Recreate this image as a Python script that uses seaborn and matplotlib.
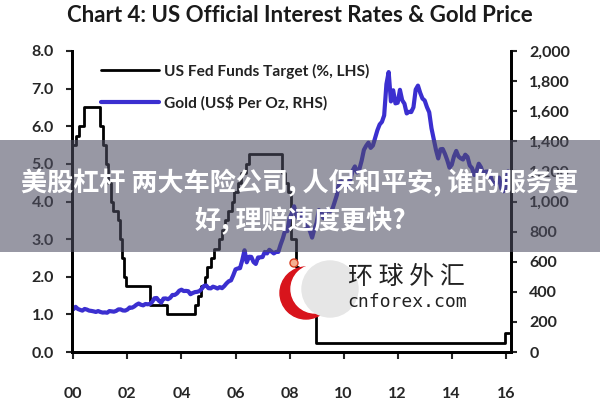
import matplotlib
matplotlib.use('Agg')
import matplotlib.pyplot as plt
import matplotlib.transforms as mtrans
from matplotlib.patches import Rectangle, Circle
import pandas as pd
import seaborn as sns

# Fed funds target: (decimal year of change, new level in %)
fed_dates = [2000.0, 2000.1, 2000.22, 2000.38, 2001.0, 2001.08, 2001.22, 2001.3,
             2001.38, 2001.48, 2001.64, 2001.72, 2001.8, 2001.86, 2001.95, 2002.85,
             2003.48, 2004.5, 2004.62, 2004.72, 2004.86, 2004.95, 2005.08, 2005.22,
             2005.38, 2005.5, 2005.62, 2005.72, 2005.86, 2005.95, 2006.08, 2006.22,
             2006.38, 2006.5, 2007.72, 2007.82, 2007.95, 2008.06, 2008.22, 2008.33,
             2008.78, 2008.83, 2008.96, 2015.96, 2016.12]
fed_levels = [5.5, 5.75, 6.0, 6.5, 6.0, 5.5, 5.0, 4.5,
              4.0, 3.75, 3.5, 3.0, 2.5, 2.0, 1.75, 1.25,
              1.0, 1.25, 1.5, 1.75, 2.0, 2.25, 2.5, 2.75,
              3.0, 3.25, 3.5, 3.75, 4.0, 4.25, 4.5, 4.75,
              5.0, 5.25, 4.75, 4.5, 4.25, 3.0, 2.25, 2.0,
              1.5, 1.0, 0.25, 0.5, 0.5]

# Gold, monthly average (US$ per oz), Jan 2000 onwards
gold_2000 = [284, 300, 286, 280, 275, 286, 282, 275, 273, 270, 266, 272]
gold_2001 = [266, 262, 263, 261, 272, 270, 268, 273, 283, 283, 276, 275]
gold_2002 = [282, 296, 294, 302, 314, 322, 314, 310, 319, 317, 319, 333]
gold_2003 = [357, 359, 340, 328, 355, 356, 351, 360, 379, 379, 389, 407]
gold_2004 = [414, 405, 406, 404, 384, 392, 398, 400, 405, 420, 439, 442]
gold_2005 = [424, 423, 434, 429, 422, 431, 424, 438, 456, 470, 476, 510]
gold_2006 = [549, 555, 557, 610, 676, 596, 633, 632, 598, 585, 628, 629]
gold_2007 = [631, 665, 655, 679, 667, 655, 665, 665, 713, 754, 806, 803]
gold_2008 = [889, 922, 968, 909, 888, 889, 939, 839, 829, 806, 760, 816]
gold_2009 = [858, 943, 924, 890, 928, 946, 934, 949, 996, 1043, 1127, 1134]
gold_2010 = [1118, 1095, 1113, 1148, 1205, 1233, 1193, 1215, 1271, 1343, 1370, 1391]
gold_2011 = [1356, 1372, 1424, 1474, 1512, 1529, 1572, 1780, 1860, 1665, 1739, 1652]
gold_2012 = [1656, 1742, 1673, 1650, 1585, 1596, 1594, 1626, 1744, 1770, 1722, 1684]
gold_2013 = [1671, 1627, 1593, 1487, 1414, 1343, 1286, 1347, 1349, 1316, 1275, 1225]
gold_2014 = [1244, 1300, 1336, 1299, 1287, 1279, 1311, 1296, 1239, 1222, 1176, 1201]
gold_2015 = [1251, 1227, 1179, 1198, 1199, 1181, 1131, 1117, 1125, 1159, 1086, 1068]
gold_2016 = [1097, 1200]

gold = (gold_2000 + gold_2001 + gold_2002 + gold_2003 + gold_2004 + gold_2005
        + gold_2006 + gold_2007 + gold_2008 + gold_2009 + gold_2010 + gold_2011
        + gold_2012 + gold_2013 + gold_2014 + gold_2015 + gold_2016)

x_ticks = [2000, 2002, 2004, 2006, 2008, 2010, 2012, 2014, 2016]
x_labels = ['00', '02', '04', '06', '08', '10', '12', '14', '16']
left_ticks = [0, 1, 2, 3, 4, 5, 6, 7, 8]
right_ticks = [0, 200, 400, 600, 800, 1000, 1200, 1400, 1600, 1800, 2000]

title = 'Chart 4: US Official Interest Rates & Gold Price'
banner = '美股杠杆 两大车险公司, 人保和平安, 谁的服务更\n好, 理赔速度更快?'

df_fed = pd.DataFrame({'year': fed_dates, 'rate': fed_levels})
df_gold = pd.DataFrame({'year': [2000 + i / 12 for i in range(len(gold))], 'price': gold})

sns.set_style('white')
plt.rcParams['font.family'] = ['Lato', 'DejaVu Sans']

fig = plt.figure(figsize=(6, 4), dpi=100)
ax = fig.add_axes([0.12, 0.12, 0.732, 0.7525])
ax2 = ax.twinx()

sns.lineplot(data=df_fed, x='year', y='rate', ax=ax, color='black', lw=2,
             drawstyle='steps-post', label='US Fed Funds Target (%, LHS)', legend=False)
sns.lineplot(data=df_gold, x='year', y='price', ax=ax2, color='#3b2fd0', lw=3,
             label='Gold (US$ Per Oz, RHS)', legend=False)

ax.set_xlim(1999.95, 2016.2)
ax.set_ylim(0, 8)
ax2.set_ylim(0, 2000)
ax.set_xlabel('')
ax.set_ylabel('')
ax2.set_ylabel('')

ax.set_xticks(x_ticks)
ax.set_xticklabels(x_labels)
ax.set_yticks(left_ticks)
ax.set_yticklabels([f'{v:.1f}' for v in left_ticks])
ax2.set_yticks(right_ticks)
ax2.set_yticklabels([f'{v:,}' for v in right_ticks])

for a in (ax, ax2):
    a.spines['top'].set_visible(False)
    for s in ('left', 'right', 'bottom'):
        a.spines[s].set_linewidth(2)
        a.spines[s].set_color('black')
    a.grid(False)

ax.tick_params(axis='x', direction='out', length=5, width=1.5, pad=20,
               labelsize=11.5, bottom=True)
ax.tick_params(axis='y', direction='out', length=4, width=1.5, pad=9,
               labelsize=11.5, left=True)
ax2.tick_params(axis='y', direction='out', length=4, width=1.5, pad=9,
                labelsize=11.5, right=True)
for lab in ax.get_xticklabels() + ax.get_yticklabels() + ax2.get_yticklabels():
    lab.set_fontweight('bold')

h1, l1 = ax.get_legend_handles_labels()
h2, l2 = ax2.get_legend_handles_labels()
leg = ax2.legend(h1 + h2, l1 + l2, loc='upper left', bbox_to_anchor=(0.035, 1.005),
                 frameon=False, fontsize=11.2, handlelength=3.7, labelspacing=1.05,
                 handletextpad=0.3)
for t in leg.get_texts():
    t.set_fontweight('bold')
    t.set_color('#222222')

fig.text(0.5, 0.962, title, ha='center', va='center', fontsize=16,
         fontweight='bold', color='#1a1a1a')

# grey banner with caption
fig.add_artist(Rectangle((0, 0.37), 1, 0.28, transform=fig.transFigure,
                         color='#4e4e62', alpha=0.58, lw=0, zorder=10))
fig.text(0.5, 0.494, banner, ha='center', va='center', fontsize=18.8,
         fontweight='bold', color='white', linespacing=1.45, zorder=11,
         family=['Noto Sans CJK SC', 'DejaVu Sans'])

# watermark logo (display pixels, origin bottom-left)
px = mtrans.IdentityTransform()
fig.add_artist(Circle((306, 107), 26, transform=px, color='#d8141c', zorder=9))
fig.add_artist(Circle((315, 111), 24, transform=px, color='white', zorder=9))
fig.add_artist(Circle((330, 111), 28, transform=px, color='#e6e6e6', zorder=9))
fig.add_artist(Circle((294, 137), 4, transform=px, facecolor='#f4b090',
                      edgecolor='#d84020', lw=1, zorder=9))
fig.text(348 / 600, 1 - 277 / 400, '环 球 外 汇', ha='left', va='center',
         fontsize=18, color='#222222', zorder=9,
         family=['Noto Sans CJK SC', 'DejaVu Sans'])
fig.text(347 / 600, 1 - 302 / 400, 'cnforex.com', ha='left', va='center',
         fontsize=13, color='#222222', zorder=9, family='DejaVu Sans Mono')

fig.savefig('out.png', dpi=100)
